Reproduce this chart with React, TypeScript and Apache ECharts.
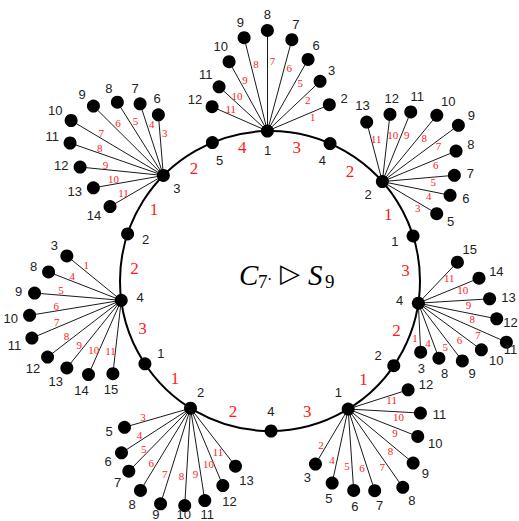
import React, { useEffect, useRef } from "react";
import * as echarts from "echarts";

const W = 519;
const H = 521;
const CX = 270;
const CY = 281;
const R = 150;

// cycle nodes, counter-clockwise starting at the top hub
const cycleLabels = ["1", "5", "3", "2", "4", "1", "2", "4", "1", "2", "4", "1", "2", "4"];
const cycleAngles = [91, 112.6, 135.3, 161.7, 187.4, 213.5, 238, 270.4, 301.4, 325.6, 351.5, 377.5, 401.5, 426.4];
const cycleEdgeLabels = ["4", "2", "1", "2", "3", "1", "2", "3", "1", "2", "3", "1", "2", "3"];

// star at top hub "1"
const topLeaves = ["2", "3", "6", "7", "8", "9", "10", "11", "12"];
const topEdges = ["1", "2", "5", "6", "7", "8", "9", "10", "11"];
const topAngles = [23.0, 43.3, 60.4, 75.0, 90, 104, 118.9, 137.5, 156.3];
const topLengths = [67.3, 72.4, 82.4, 94.5, 100.6, 96.2, 79.2, 65.5, 60.4];

// star at upper-left hub "3"
const ulLeaves = ["6", "7", "8", "9", "10", "11", "12", "13", "14"];
const ulEdges = ["3", "4", "5", "6", "7", "8", "9", "10", "11"];
const ulAngles = [94.7, 108, 122.1, 135.2, 149.2, 160.8, 174.2, 190, 210.2];
const ulLengths = [60.9, 75.4, 86.6, 98.6, 107.4, 98.8, 83.7, 71.1, 61.7];

// star at left hub "4"
const leftLeaves = ["3", "8", "9", "10", "11", "12", "13", "14", "15"];
const leftEdges = ["1", "4", "5", "6", "7", "8", "9", "10", "11"];
const leftAngles = [140.8, 158.7, 175.2, 189.3, 202.9, 217.6, 231.2, 246.2, 263.5];
const leftLengths = [70.2, 78, 87, 92.9, 97, 93, 86.8, 81.2, 73.8];

// star at bottom-left hub "2"
const blLeaves = ["5", "6", "7", "8", "9", "10", "11", "12", "13"];
const blEdges = ["3", "4", "5", "6", "7", "8", "9", "10", "11"];
const blAngles = [196.1, 212.9, 225.6, 238.7, 252.6, 266.6, 278.8, 292.7, 307.8];
const blLengths = [68.7, 82.2, 88.2, 96.3, 100.2, 97.5, 93.4, 83.8, 73.4];

// star at bottom-right hub "1"
const brLeaves = ["3", "5", "6", "7", "8", "9", "10", "11", "12"];
const brEdges = ["2", "4", "5", "6", "7", "8", "9", "10", "11"];
const brAngles = [239.3, 257.8, 273.9, 288, 304.9, 320.3, 338.5, 356.8, 377.8];
const brLengths = [64, 75.7, 81.6, 85.9, 95.5, 84.5, 74.8, 72.4, 63];

// star at right hub "4"
const rightLeaves = ["3", "8", "9", "10", "11", "12", "13", "14", "15"];
const rightEdges = ["1", "4", "5", "6", "7", "8", "9", "10", "11"];
const rightAngles = [272.7, 290.5, 307.3, 323.5, 336.1, 348.7, 363.5, 382.4, 406.4];
const rightLengths = [49.1, 58.7, 72.6, 78.4, 96.3, 79.9, 71.4, 65.6, 56.6];

// star at upper-right hub "2"
const urLeaves = ["5", "6", "7", "8", "9", "10", "11", "12", "13"];
const urEdges = ["3", "4", "5", "6", "7", "8", "9", "10", "11"];
const urAngles = [329.5, 348.6, 365, 382.5, 396.5, 410.6, 427.8, 443.5, 464.7];
const urLengths = [63.1, 69.1, 72.3, 79.8, 94.6, 85.8, 75.2, 67.7, 61.6];

const stars = [
  { hub: 0, leaves: topLeaves, edges: topEdges, angles: topAngles, lengths: topLengths },
  { hub: 2, leaves: ulLeaves, edges: ulEdges, angles: ulAngles, lengths: ulLengths },
  { hub: 4, leaves: leftLeaves, edges: leftEdges, angles: leftAngles, lengths: leftLengths },
  { hub: 6, leaves: blLeaves, edges: blEdges, angles: blAngles, lengths: blLengths },
  { hub: 8, leaves: brLeaves, edges: brEdges, angles: brAngles, lengths: brLengths },
  { hub: 10, leaves: rightLeaves, edges: rightEdges, angles: rightAngles, lengths: rightLengths },
  { hub: 12, leaves: urLeaves, edges: urEdges, angles: urAngles, lengths: urLengths },
];

const rad = (d: number) => (d * Math.PI) / 180;
const at = (x: number, y: number, a: number, r: number) => [x + r * Math.cos(rad(a)), y - r * Math.sin(rad(a))];

function buildOption() {
  const dots: number[][] = [];
  const links: any[] = [];
  const blackLabels: any[] = [];
  const redSmall: any[] = [];
  const redBig: any[] = [];

  const cyclePos = cycleAngles.map((a) => at(CX, CY, a, R));
  cyclePos.forEach((p, i) => {
    dots.push(p);
    blackLabels.push({ name: cycleLabels[i], value: at(CX, CY, cycleAngles[i], R - 19) });
    const a2 = i + 1 < cycleAngles.length ? cycleAngles[i + 1] : cycleAngles[0] + 360;
    const mid = (cycleAngles[i] + a2) / 2;
    redBig.push({ name: cycleEdgeLabels[i], value: at(CX, CY, mid, 136) });
  });

  stars.forEach((s) => {
    const [hx, hy] = cyclePos[s.hub];
    s.leaves.forEach((lab, k) => {
      const a = s.angles[k];
      const len = s.lengths[k];
      const p = at(hx, hy, a, len);
      dots.push(p);
      links.push({ coords: [[hx, hy], p] });
      const extra = lab.length > 1 ? 3 * Math.abs(Math.cos(rad(a))) : 0;
      const lp = at(p[0], p[1], a, 16 + extra);
      // keep the label inside the picture
      const halfW = lab.length * 3.7;
      lp[0] = Math.min(Math.max(lp[0], halfW + 1), W - halfW - 1);
      lp[1] = Math.min(Math.max(lp[1], 8), H - 7);
      blackLabels.push({ name: lab, value: lp });
      const m = at(hx, hy, a, 0.7 * len);
      // offset to the clockwise side of the edge
      const px = Math.sin(rad(a)) * 5;
      const py = Math.cos(rad(a)) * 5;
      redSmall.push({ name: s.edges[k], value: [m[0] + px, m[1] + py] });
    });
  });

  const textSeries = (data: any[], label: any, z: number) => ({
    type: "scatter",
    data,
    symbol: "circle",
    symbolSize: 1,
    itemStyle: { color: "transparent", opacity: 1 },
    silent: true,
    z,
    label: { show: true, position: "inside", formatter: "{b}", textBorderWidth: 0, ...label },
  });

  const mathFont = "'Liberation Serif', 'DejaVu Serif', serif";

  return {
    animation: false,
    backgroundColor: "#ffffff",
    grid: { left: 0, right: 0, top: 0, bottom: 0 },
    xAxis: { type: "value", min: 0, max: W, show: false },
    yAxis: { type: "value", min: 0, max: H, inverse: true, show: false },
    polar: { center: [CX, CY], radius: R },
    angleAxis: {
      type: "value",
      min: 0,
      max: 360,
      axisLine: { show: true, lineStyle: { color: "#000", width: 2 } },
      axisTick: { show: false },
      axisLabel: { show: false },
      splitLine: { show: false },
    },
    radiusAxis: { type: "value", min: 0, max: 1, show: false },
    graphic: [
      { type: "text", x: 239, y: 275, style: { text: "C", font: `italic 29px ${mathFont}`, fill: "#000", textAlign: "left", textVerticalAlign: "middle" } },
      { type: "text", x: 258, y: 281, style: { text: "7", font: `19px ${mathFont}`, fill: "#000", textAlign: "left", textVerticalAlign: "middle" } },
      { type: "text", x: 267, y: 279, style: { text: "·", font: `16px ${mathFont}`, fill: "#000", textAlign: "left", textVerticalAlign: "middle" } },
      { type: "text", x: 290, y: 273, style: { text: "▷", font: `26px 'DejaVu Sans', sans-serif`, fill: "#000", textAlign: "center", textVerticalAlign: "middle" } },
      { type: "text", x: 308, y: 275, style: { text: "S", font: `italic 29px ${mathFont}`, fill: "#000", textAlign: "left", textVerticalAlign: "middle" } },
      { type: "text", x: 325, y: 281, style: { text: "9", font: `19px ${mathFont}`, fill: "#000", textAlign: "left", textVerticalAlign: "middle" } },
    ],
    series: [
      {
        type: "lines",
        coordinateSystem: "cartesian2d",
        data: links,
        silent: true,
        z: 2,
        lineStyle: { color: "#1a1a1a", width: 1, opacity: 1 },
      },
      {
        type: "scatter",
        data: dots,
        symbol: "circle",
        symbolSize: 13,
        itemStyle: { color: "#000", opacity: 1 },
        silent: true,
        z: 3,
      },
      textSeries(blackLabels, { color: "#222", fontSize: 13, fontFamily: "'Liberation Sans', Arial, sans-serif" }, 4),
      textSeries(redSmall, { color: "#ff1a1a", fontSize: 11, fontFamily: "'Liberation Serif', serif" }, 4),
      textSeries(redBig, { color: "#ff1a1a", fontSize: 17, fontFamily: "'Liberation Serif', serif" }, 4),
    ],
  };
}

export default function App() {
  const ref = useRef<HTMLDivElement>(null);
  useEffect(() => {
    if (!ref.current) return;
    const chart = echarts.init(ref.current, undefined, { renderer: "svg" });
    chart.setOption(buildOption() as any);
    return () => chart.dispose();
  }, []);
  return (
    <div
      ref={ref}
      style={{ position: "absolute", left: 0, top: 0, width: W, height: H, background: "#fff" }}
    />
  );
}
